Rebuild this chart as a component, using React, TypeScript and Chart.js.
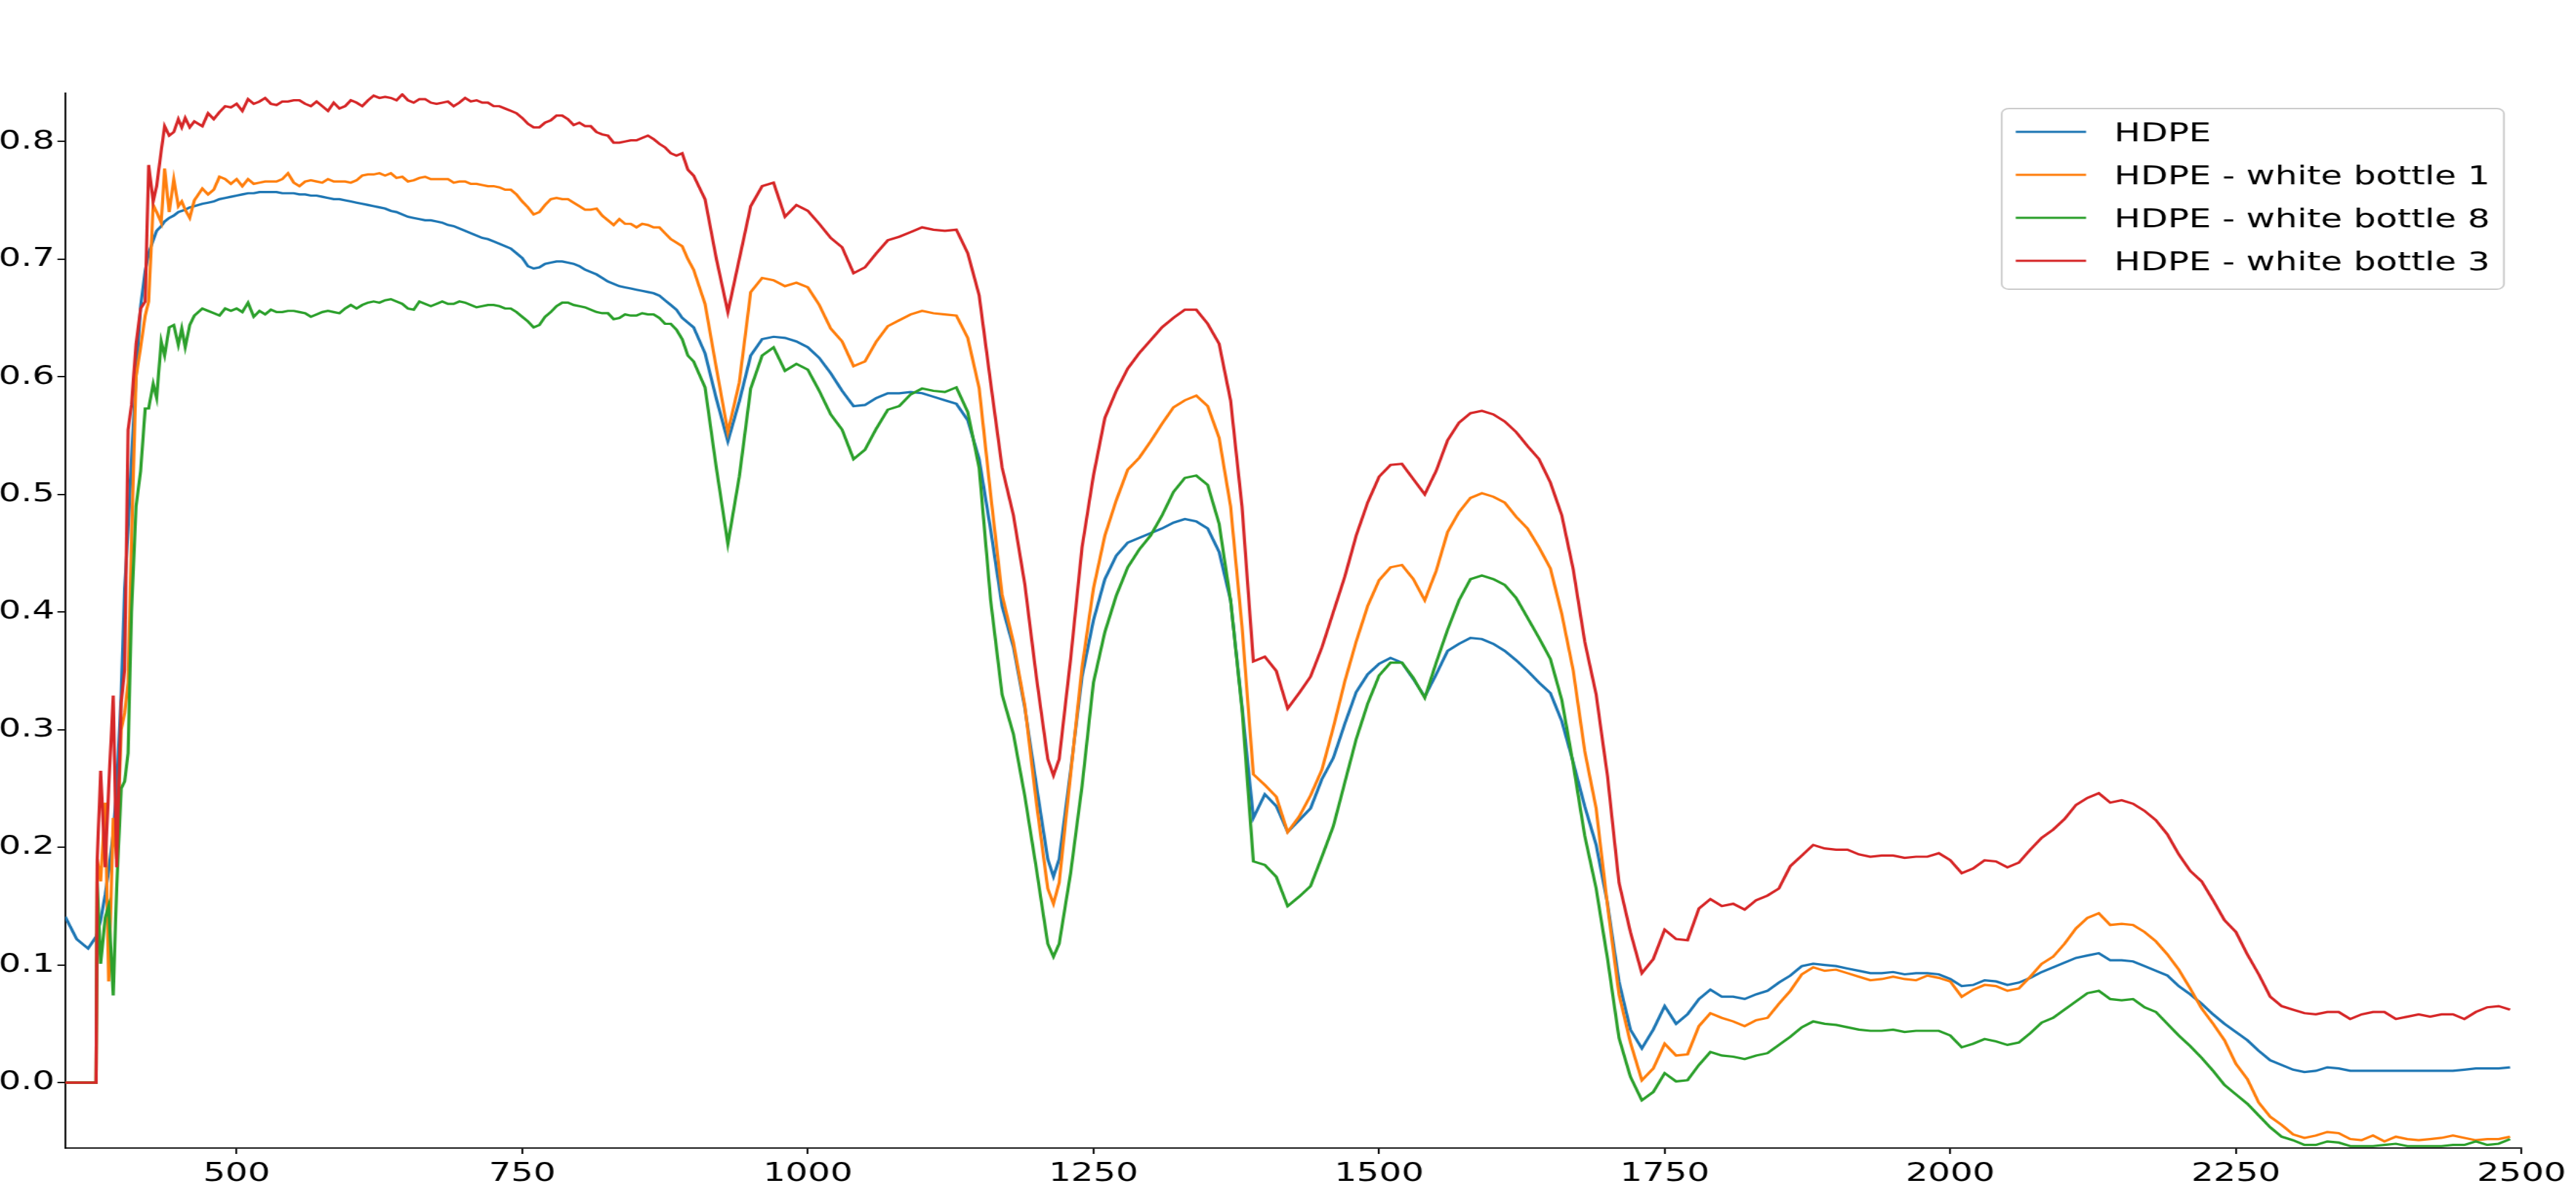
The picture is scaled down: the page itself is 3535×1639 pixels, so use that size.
import React, { useEffect, useRef } from "react";
import { Chart, registerables } from "chart.js";

Chart.register(...registerables);

// Wavelength (nm) sample positions
const wavelengths = [
  350, 360, 370, 377, 378, 381, 385, 388, 392, 395, 399, 402, 405, 408, 412, 416, 420, 423, 427, 430, 434, 437, 441, 445, 449, 452, 455, 459, 463,
  470, 475, 480, 485, 490, 495, 500, 505, 510, 515, 520, 525, 530, 535, 540, 545, 550, 555, 560, 565,
  570, 575, 580, 585, 590, 595, 600, 605, 610, 615, 620, 625, 630, 635, 640, 645, 650, 655, 660, 665,
  670, 675, 680, 685, 690, 695, 700, 705, 710, 715, 720, 725, 730, 735, 740, 745, 750, 755, 760, 765,
  770, 775, 780, 785, 790, 795, 800, 805, 810, 815, 820, 825, 830, 835, 840, 845, 850, 855, 860, 865,
  870, 875, 880, 885, 890, 895, 900,
  910, 920, 930, 940, 950, 960,
  970, 980, 990, 1000, 1010, 1020, 1030, 1040, 1050, 1060,
  1070, 1080, 1090, 1100, 1110, 1120, 1130, 1140, 1150, 1160,
  1170, 1180, 1190, 1200, 1210, 1215,
  1220, 1230, 1240, 1250, 1260, 1270, 1280, 1290, 1300, 1310,
  1320, 1330, 1340, 1350, 1360, 1370, 1380, 1390, 1400, 1410,
  1420, 1430, 1440, 1450, 1460, 1470, 1480, 1490, 1500, 1510,
  1520, 1530, 1540, 1550, 1560, 1570, 1580, 1590, 1600, 1610,
  1620, 1630, 1640, 1650, 1660, 1670, 1680, 1690, 1700, 1710,
  1720, 1730, 1740, 1750, 1760, 1770, 1780, 1790, 1800, 1810,
  1820, 1830, 1840, 1850, 1860, 1870, 1880, 1890, 1900, 1910,
  1920, 1930, 1940, 1950, 1960, 1970, 1980, 1990, 2000, 2010,
  2020, 2030, 2040, 2050, 2060, 2070, 2080, 2090, 2100, 2110,
  2120, 2130, 2140, 2150, 2160, 2170, 2180, 2190, 2200, 2210,
  2220, 2230, 2240, 2250, 2260, 2270, 2280, 2290, 2300, 2310,
  2320, 2330, 2340, 2350, 2360, 2370, 2380, 2390, 2400, 2410,
  2420, 2430, 2440, 2450, 2460, 2470, 2480, 2490,
];

const hdpe = [
  0.141, 0.122, 0.114, 0.124, 0.127, 0.138, 0.160, 0.180, 0.212, 0.250, 0.330, 0.420, 0.470, 0.530, 0.600, 0.660, 0.690, 0.705, 0.716, 0.724, 0.728, 0.732, 0.735, 0.737, 0.740, 0.741, 0.742, 0.744, 0.745,
  0.747, 0.748, 0.749, 0.751, 0.752, 0.753, 0.754, 0.755, 0.756, 0.756, 0.757, 0.757, 0.757, 0.757, 0.756, 0.756, 0.756, 0.755, 0.755, 0.754,
  0.754, 0.753, 0.752, 0.751, 0.751, 0.750, 0.749, 0.748, 0.747, 0.746, 0.745, 0.744, 0.743, 0.741, 0.740, 0.738, 0.736, 0.735, 0.734, 0.733,
  0.733, 0.732, 0.731, 0.729, 0.728, 0.726, 0.724, 0.722, 0.720, 0.718, 0.717, 0.715, 0.713, 0.711, 0.709, 0.705, 0.701, 0.694, 0.692, 0.693,
  0.696, 0.697, 0.698, 0.698, 0.697, 0.696, 0.694, 0.691, 0.689, 0.687, 0.684, 0.681, 0.679, 0.677, 0.676, 0.675, 0.674, 0.673, 0.672, 0.671,
  0.669, 0.665, 0.661, 0.657, 0.650, 0.646, 0.642,
  0.620, 0.581, 0.545, 0.579, 0.618, 0.632,
  0.634, 0.633, 0.630, 0.625, 0.616, 0.603, 0.588, 0.575, 0.576, 0.582,
  0.586, 0.586, 0.587, 0.586, 0.583, 0.580, 0.577, 0.563, 0.530, 0.470,
  0.405, 0.370, 0.318, 0.253, 0.190, 0.175,
  0.190, 0.265, 0.345, 0.393, 0.428, 0.448, 0.459, 0.463, 0.467, 0.471,
  0.476, 0.479, 0.477, 0.471, 0.451, 0.410, 0.320, 0.225, 0.245, 0.235,
  0.213, 0.223, 0.233, 0.258, 0.276, 0.305, 0.332, 0.347, 0.356, 0.361,
  0.357, 0.343, 0.328, 0.347, 0.367, 0.373, 0.378, 0.377, 0.373, 0.367,
  0.359, 0.350, 0.340, 0.331, 0.307, 0.272, 0.235, 0.202, 0.152, 0.086,
  0.045, 0.029, 0.045, 0.065, 0.050, 0.058, 0.071, 0.079, 0.073, 0.073,
  0.071, 0.075, 0.078, 0.085, 0.091, 0.099, 0.101, 0.100, 0.099, 0.097,
  0.095, 0.093, 0.093, 0.094, 0.092, 0.093, 0.093, 0.092, 0.088, 0.082,
  0.083, 0.087, 0.086, 0.083, 0.085, 0.089, 0.094, 0.098, 0.102, 0.106,
  0.108, 0.110, 0.104, 0.104, 0.103, 0.099, 0.095, 0.091, 0.082, 0.075,
  0.067, 0.058, 0.050, 0.043, 0.036, 0.027, 0.019, 0.015, 0.011, 0.009,
  0.010, 0.013, 0.012, 0.010, 0.010, 0.010, 0.010, 0.010, 0.010, 0.010,
  0.010, 0.010, 0.010, 0.011, 0.012, 0.012, 0.012, 0.013,
];

const whiteBottle1 = [
  0, 0, 0, 0, 0.190, 0.171, 0.238, 0.086, 0.225, 0.190, 0.300, 0.314, 0.340, 0.460, 0.600, 0.625, 0.652, 0.664, 0.746, 0.740, 0.731, 0.777, 0.740, 0.768, 0.745, 0.749, 0.742, 0.735, 0.750,
  0.760, 0.755, 0.759, 0.770, 0.768, 0.764, 0.768, 0.762, 0.768, 0.764, 0.765, 0.766, 0.766, 0.766, 0.768, 0.773, 0.765, 0.762, 0.766, 0.767,
  0.766, 0.765, 0.768, 0.766, 0.766, 0.766, 0.765, 0.767, 0.771, 0.772, 0.772, 0.773, 0.771, 0.773, 0.769, 0.770, 0.766, 0.767, 0.769, 0.770,
  0.768, 0.768, 0.768, 0.768, 0.765, 0.766, 0.766, 0.764, 0.764, 0.763, 0.762, 0.762, 0.761, 0.759, 0.759, 0.755, 0.749, 0.744, 0.738, 0.740,
  0.746, 0.751, 0.752, 0.751, 0.751, 0.748, 0.745, 0.742, 0.742, 0.743, 0.737, 0.733, 0.729, 0.734, 0.730, 0.730, 0.727, 0.730, 0.729, 0.727,
  0.727, 0.722, 0.717, 0.714, 0.711, 0.700, 0.691,
  0.662, 0.607, 0.553, 0.595, 0.672, 0.684,
  0.682, 0.677, 0.680, 0.676, 0.661, 0.641, 0.630, 0.609, 0.613, 0.630,
  0.643, 0.648, 0.653, 0.656, 0.654, 0.653, 0.652, 0.633, 0.590, 0.500,
  0.415, 0.374, 0.320, 0.238, 0.165, 0.152,
  0.170, 0.262, 0.353, 0.420, 0.465, 0.495, 0.521, 0.531, 0.545, 0.560,
  0.574, 0.580, 0.584, 0.575, 0.548, 0.490, 0.388, 0.262, 0.253, 0.243,
  0.213, 0.226, 0.244, 0.266, 0.302, 0.341, 0.375, 0.405, 0.427, 0.438,
  0.440, 0.428, 0.410, 0.435, 0.468, 0.485, 0.497, 0.501, 0.498, 0.493,
  0.481, 0.471, 0.455, 0.437, 0.398, 0.350, 0.282, 0.233, 0.150, 0.075,
  0.034, 0.002, 0.012, 0.033, 0.023, 0.024, 0.048, 0.059, 0.055, 0.052,
  0.048, 0.053, 0.055, 0.067, 0.078, 0.092, 0.098, 0.095, 0.096, 0.093,
  0.090, 0.087, 0.088, 0.090, 0.088, 0.087, 0.091, 0.089, 0.086, 0.073,
  0.079, 0.083, 0.082, 0.078, 0.080, 0.090, 0.101, 0.107, 0.118, 0.131,
  0.140, 0.144, 0.134, 0.135, 0.134, 0.128, 0.120, 0.109, 0.096, 0.080,
  0.063, 0.050, 0.036, 0.016, 0.003, -0.017, -0.029, -0.036, -0.044, -0.047,
  -0.045, -0.042, -0.043, -0.048, -0.049, -0.045, -0.050, -0.046, -0.048, -0.049,
  -0.048, -0.047, -0.045, -0.047, -0.049, -0.048, -0.048, -0.046,
];

const whiteBottle8 = [
  0, 0, 0, 0, 0.171, 0.101, 0.140, 0.150, 0.074, 0.165, 0.250, 0.256, 0.280, 0.400, 0.490, 0.520, 0.573, 0.573, 0.594, 0.582, 0.630, 0.618, 0.642, 0.644, 0.627, 0.641, 0.625, 0.644, 0.652,
  0.658, 0.656, 0.654, 0.652, 0.658, 0.656, 0.658, 0.655, 0.663, 0.651, 0.656, 0.653, 0.657, 0.655, 0.655, 0.656, 0.656, 0.655, 0.654, 0.651,
  0.653, 0.655, 0.656, 0.655, 0.654, 0.658, 0.661, 0.658, 0.661, 0.663, 0.664, 0.663, 0.665, 0.666, 0.664, 0.662, 0.658, 0.657, 0.664, 0.662,
  0.660, 0.662, 0.664, 0.662, 0.662, 0.664, 0.663, 0.661, 0.659, 0.660, 0.661, 0.661, 0.660, 0.658, 0.658, 0.655, 0.651, 0.647, 0.642, 0.644,
  0.651, 0.655, 0.660, 0.663, 0.663, 0.661, 0.660, 0.659, 0.657, 0.655, 0.654, 0.654, 0.649, 0.650, 0.653, 0.652, 0.652, 0.654, 0.653, 0.653,
  0.650, 0.645, 0.645, 0.640, 0.632, 0.618, 0.613,
  0.591, 0.522, 0.458, 0.515, 0.590, 0.618,
  0.625, 0.605, 0.611, 0.606, 0.588, 0.568, 0.555, 0.530, 0.538, 0.556,
  0.572, 0.575, 0.585, 0.590, 0.588, 0.587, 0.591, 0.570, 0.522, 0.410,
  0.330, 0.296, 0.243, 0.182, 0.118, 0.107,
  0.118, 0.178, 0.252, 0.340, 0.383, 0.414, 0.438, 0.453, 0.465, 0.482,
  0.502, 0.514, 0.516, 0.508, 0.475, 0.410, 0.318, 0.188, 0.185, 0.175,
  0.150, 0.158, 0.167, 0.192, 0.218, 0.255, 0.292, 0.322, 0.346, 0.357,
  0.357, 0.344, 0.327, 0.357, 0.385, 0.410, 0.428, 0.431, 0.428, 0.423,
  0.412, 0.395, 0.378, 0.360, 0.325, 0.270, 0.210, 0.165, 0.105, 0.038,
  0.005, -0.015, -0.008, 0.008, 0.001, 0.002, 0.015, 0.026, 0.023, 0.022,
  0.020, 0.023, 0.025, 0.032, 0.039, 0.047, 0.052, 0.050, 0.049, 0.047,
  0.045, 0.044, 0.044, 0.045, 0.043, 0.044, 0.044, 0.044, 0.040, 0.030,
  0.033, 0.037, 0.035, 0.032, 0.034, 0.042, 0.051, 0.055, 0.062, 0.069,
  0.076, 0.078, 0.071, 0.070, 0.071, 0.064, 0.060, 0.050, 0.040, 0.031,
  0.021, 0.010, -0.002, -0.010, -0.018, -0.028, -0.038, -0.046, -0.049, -0.053,
  -0.053, -0.050, -0.051, -0.054, -0.054, -0.054, -0.053, -0.052, -0.054, -0.054,
  -0.054, -0.054, -0.053, -0.053, -0.050, -0.053, -0.052, -0.048,
];

const whiteBottle3 = [
  0, 0, 0, 0, 0.190, 0.265, 0.183, 0.250, 0.329, 0.183, 0.323, 0.351, 0.555, 0.576, 0.628, 0.658, 0.664, 0.780, 0.749, 0.762, 0.792, 0.813, 0.805, 0.808, 0.819, 0.812, 0.820, 0.812, 0.817,
  0.813, 0.824, 0.819, 0.825, 0.830, 0.829, 0.832, 0.826, 0.836, 0.832, 0.834, 0.837, 0.832, 0.831, 0.834, 0.834, 0.835, 0.835, 0.832, 0.830,
  0.834, 0.830, 0.826, 0.833, 0.828, 0.830, 0.835, 0.833, 0.830, 0.835, 0.839, 0.837, 0.838, 0.837, 0.835, 0.840, 0.835, 0.833, 0.836, 0.836,
  0.833, 0.832, 0.833, 0.834, 0.830, 0.833, 0.837, 0.834, 0.835, 0.833, 0.833, 0.830, 0.830, 0.828, 0.826, 0.824, 0.820, 0.815, 0.812, 0.812,
  0.816, 0.818, 0.822, 0.822, 0.819, 0.814, 0.816, 0.813, 0.813, 0.808, 0.806, 0.805, 0.799, 0.799, 0.800, 0.801, 0.801, 0.803, 0.805, 0.802,
  0.798, 0.795, 0.790, 0.788, 0.790, 0.776, 0.771,
  0.751, 0.700, 0.655, 0.700, 0.745, 0.762,
  0.765, 0.736, 0.746, 0.741, 0.730, 0.718, 0.710, 0.688, 0.693, 0.705,
  0.716, 0.719, 0.723, 0.727, 0.725, 0.724, 0.725, 0.705, 0.669, 0.595,
  0.523, 0.482, 0.423, 0.345, 0.275, 0.261,
  0.275, 0.360, 0.455, 0.516, 0.565, 0.588, 0.607, 0.620, 0.631, 0.642,
  0.650, 0.657, 0.657, 0.645, 0.628, 0.580, 0.490, 0.358, 0.362, 0.350,
  0.318, 0.331, 0.345, 0.370, 0.400, 0.430, 0.465, 0.493, 0.515, 0.525,
  0.526, 0.513, 0.500, 0.520, 0.546, 0.561, 0.569, 0.571, 0.568, 0.562,
  0.553, 0.541, 0.530, 0.510, 0.482, 0.436, 0.375, 0.330, 0.260, 0.170,
  0.128, 0.093, 0.105, 0.130, 0.122, 0.121, 0.148, 0.156, 0.150, 0.152,
  0.147, 0.155, 0.159, 0.165, 0.184, 0.193, 0.202, 0.199, 0.198, 0.198,
  0.194, 0.192, 0.193, 0.193, 0.191, 0.192, 0.192, 0.195, 0.189, 0.178,
  0.182, 0.189, 0.188, 0.183, 0.187, 0.198, 0.208, 0.215, 0.224, 0.236,
  0.242, 0.246, 0.238, 0.240, 0.237, 0.231, 0.223, 0.211, 0.194, 0.180,
  0.171, 0.155, 0.138, 0.128, 0.109, 0.092, 0.073, 0.065, 0.062, 0.059,
  0.058, 0.060, 0.060, 0.054, 0.058, 0.060, 0.060, 0.054, 0.056, 0.058,
  0.056, 0.058, 0.058, 0.054, 0.060, 0.064, 0.065, 0.062,
];

const seriesLabels = [
  "HDPE",
  "HDPE - white bottle 1",
  "HDPE - white bottle 8",
  "HDPE - white bottle 3",
];
const seriesColors = ["#1f77b4", "#ff7f0e", "#2ca02c", "#d62728"];
const xTickValues = [500, 750, 1000, 1250, 1500, 1750, 2000, 2250, 2500];
const yTickValues = [0, 0.1, 0.2, 0.3, 0.4, 0.5, 0.6, 0.7, 0.8];

const PAGE_W = 3535;
const PAGE_H = 1639;
const STRETCH = 1.34;
const CANVAS_W = Math.round(PAGE_W / STRETCH);
const FONT_FAMILY = '"DejaVu Sans", "Liberation Sans", sans-serif';
const FONT_SIZE = 36;

export default function App() {
  const canvasRef = useRef<HTMLCanvasElement | null>(null);

  useEffect(() => {
    const canvas = canvasRef.current;
    if (!canvas) return;
    const series = [hdpe, whiteBottle1, whiteBottle8, whiteBottle3];

    const legendPlugin = {
      id: "mplLegend",
      afterDraw(chart: any) {
        const { ctx, chartArea } = chart;
        const fs = FONT_SIZE;
        ctx.save();
        ctx.font = `${fs}px ${FONT_FAMILY}`;
        const textW = Math.max(...seriesLabels.map((l) => ctx.measureText(l).width));
        const borderPad = 0.4 * fs;
        const handleLen = 2 * fs;
        const handlePad = 0.8 * fs;
        const boxW = borderPad * 2 + handleLen + handlePad + textW;
        const rowPitch = 59;
        const boxH = 248;
        const right = chartArea.right - 0.5 * fs;
        const top = chartArea.top + 21;
        const left = right - boxW;
        ctx.beginPath();
        ctx.roundRect(left, top, boxW, boxH, 0.2 * fs);
        ctx.fillStyle = "rgba(255,255,255,0.8)";
        ctx.fill();
        ctx.lineWidth = 1.8;
        ctx.strokeStyle = "#cccccc";
        ctx.stroke();
        seriesLabels.forEach((label, i) => {
          const cy = top + 32 + i * rowPitch;
          ctx.beginPath();
          ctx.moveTo(left + borderPad, cy);
          ctx.lineTo(left + borderPad + handleLen, cy);
          ctx.strokeStyle = seriesColors[i];
          ctx.lineWidth = 3.2;
          ctx.stroke();
          ctx.fillStyle = "#000000";
          ctx.textAlign = "left";
          ctx.textBaseline = "alphabetic";
          ctx.fillText(label, left + borderPad + handleLen + handlePad, cy + 0.365 * fs);
        });
        ctx.restore();
      },
    };

    const tickFont = { family: FONT_FAMILY, size: FONT_SIZE, lineHeight: 1 };

    const chart = new Chart(canvas, {
      type: "line",
      data: {
        datasets: series.map((vals, i) => ({
          label: seriesLabels[i],
          data: wavelengths.map((x, j) => ({ x, y: vals[j] })),
          borderColor: seriesColors[i],
          backgroundColor: seriesColors[i],
          borderWidth: 3.2,
          pointRadius: 0,
          pointHoverRadius: 0,
          fill: false,
          tension: 0,
          order: 4 - i,
        })),
      },
      options: {
        responsive: false,
        animation: false,
        devicePixelRatio: 1,
        events: [],
        layout: {
          padding: { top: 128, right: CANVAS_W - 3466 / STRETCH, left: 0, bottom: 0 },
        },
        plugins: {
          legend: { display: false },
          tooltip: { enabled: false },
          title: { display: false },
        },
        scales: {
          x: {
            type: "linear",
            min: 350,
            max: 2500,
            afterFit: (s: any) => {
              s.height = PAGE_H - 1576;
            },
            afterBuildTicks: (s: any) => {
              s.ticks = xTickValues.map((v) => ({ value: v }));
            },
            grid: {
              display: true,
              drawOnChartArea: false,
              drawTicks: true,
              tickLength: 8,
              color: "#000000",
              lineWidth: 1.8,
            },
            border: { display: true, color: "#000000", width: 1.8 },
            ticks: {
              color: "#000000",
              font: tickFont,
              padding: 10,
              maxRotation: 0,
              autoSkip: false,
              callback: (v: any) => String(v),
            },
          },
          y: {
            type: "linear",
            min: -0.0557,
            max: 0.841,
            afterFit: (s: any) => {
              s.width = 89.5 / STRETCH;
            },
            afterBuildTicks: (s: any) => {
              s.ticks = yTickValues.map((v) => ({ value: v }));
            },
            grid: {
              display: true,
              drawOnChartArea: false,
              drawTicks: true,
              tickLength: 8,
              color: "#000000",
              lineWidth: 1.8,
            },
            border: { display: true, color: "#000000", width: 1.8 },
            ticks: {
              color: "#000000",
              font: tickFont,
              padding: 3,
              autoSkip: false,
              callback: (v: any) => Number(v).toFixed(1),
            },
          },
        },
      },
      plugins: [legendPlugin],
    });

    return () => {
      chart.destroy();
    };
  }, []);

  return (
    <div
      style={{
        position: "fixed",
        left: 0,
        top: 0,
        width: PAGE_W,
        height: PAGE_H,
        background: "#ffffff",
        overflow: "hidden",
      }}
    >
      <canvas
        ref={canvasRef}
        width={CANVAS_W}
        height={PAGE_H}
        style={{ width: `${PAGE_W}px`, height: `${PAGE_H}px`, display: "block" }}
      />
    </div>
  );
}
